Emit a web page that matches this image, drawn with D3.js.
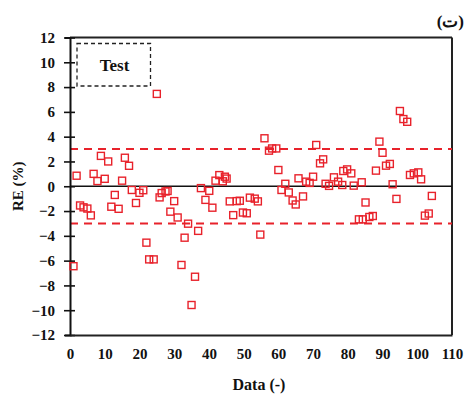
<!DOCTYPE html>
<html>
<head>
<meta charset="utf-8">
<script src="https://cdn.jsdelivr.net/npm/d3@7"></script>
<style>
  html, body { margin: 0; padding: 0; background: #fff; }
  svg { display: block; }
  svg text { font-family: "Liberation Serif", "Times New Roman", serif; font-weight: bold; }
</style>
</head>
<body>
<svg id="chart" width="466" height="394"></svg>
<script>
// data index (x) and relative error in % (y)
const dataIndex = [
  1.0, 1.9, 2.9, 3.9, 5.0, 6.0, 6.8, 7.9, 8.9, 10.0,
  11.0, 11.9, 12.9, 14.0, 15.0, 15.8, 17.0, 17.8, 19.0, 20.0,
  21.1, 22.0, 22.8, 24.1, 25.0, 25.8, 26.4, 27.5, 28.1, 28.9,
  30.0, 31.0, 32.1, 33.0, 34.0, 35.0, 36.0, 36.9, 37.7, 39.0,
  40.1, 41.0, 41.9, 43.0, 44.0, 44.6, 45.1, 46.0, 47.0, 48.0,
  48.9, 49.8, 50.9, 51.8, 53.2, 54.1, 54.8, 56.0, 57.3, 58.2,
  59.4, 60.0, 60.9, 62.0, 63.0, 64.1, 65.0, 65.8, 67.1, 68.0,
  69.0, 70.0, 70.9, 72.0, 72.9, 73.6, 74.6, 76.0, 77.2, 78.4,
  78.7, 79.8, 81.0, 81.7, 83.2, 84.0, 84.3, 85.1, 86.2, 87.2,
  88.1, 89.1, 90.0, 91.0, 92.1, 92.9, 94.0, 95.0, 96.0, 97.1,
  97.9, 99.0, 100.3, 101.1, 102.2, 103.3, 104.2
];
const relError = [
  -6.45, 0.85, -1.55, -1.7, -1.8, -2.35, 1.0, 0.42, 2.45, 0.6,
  2.0, -1.65, -0.7, -1.82, 0.45, 2.3, 1.65, -0.3, -1.35, -0.53,
  -0.32, -4.55, -5.9, -5.9, 7.45, -0.9, -0.55, -0.42, -0.38, -2.05,
  -1.2, -2.52, -6.35, -4.15, -3.02, -9.58, -7.3, -3.6, -0.15, -1.1,
  -0.37, -1.73, 0.45, 0.9, 0.4, 0.77, 0.62, -1.22, -2.33, -1.2,
  -1.17, -2.12, -2.18, -0.92, -1.0, -1.22, -3.9, 3.87, 2.87, 3.05,
  3.05, 1.31, -0.3, 0.2, -0.5, -1.15, -1.47, 0.64, -0.82, 0.37,
  0.27, 0.77, 3.33, 1.85, 2.17, 0.2, 0.03, 0.72, 0.37, 0.1,
  1.23, 1.36, 1.04, 0.05, -2.67, 0.32, -2.67, -1.31, -2.48, -2.4,
  1.26, 3.6, 2.7, 1.66, 1.8, 0.16, -1.02, 6.07, 5.42, 5.2,
  0.91, 1.04, 1.12, 0.56, -2.37, -2.2, -0.78
];
const xTicks = [0, 10, 20, 30, 40, 50, 60, 70, 80, 90, 100, 110];
const yTicks = [-12, -10, -8, -6, -4, -2, 0, 2, 4, 6, 8, 10, 12];
const limitLines = [3, -3];

const plotLeft = 70, plotRight = 452, plotTop = 37.5, plotBottom = 335;
const red = '#e8222b';
const ink = '#111';

const svg = d3.select('#chart');

const x = d3.scaleLinear().domain([0, 110]).range([plotLeft, plotRight]);
const y = d3.scaleLinear().domain([-12, 12]).range([plotBottom, plotTop]);

// frame top and right
svg.append('line')
  .attr('x1', plotLeft).attr('x2', plotRight)
  .attr('y1', plotTop).attr('y2', plotTop)
  .attr('stroke', '#222').attr('stroke-width', 2);
svg.append('line')
  .attr('x1', plotRight).attr('x2', plotRight)
  .attr('y1', plotTop).attr('y2', plotBottom)
  .attr('stroke', '#222').attr('stroke-width', 2);

// zero line
svg.append('line')
  .attr('x1', plotLeft).attr('x2', plotRight)
  .attr('y1', y(0)).attr('y2', y(0))
  .attr('stroke', ink).attr('stroke-width', 1.6);

// +-3 % limits
svg.selectAll('.limit')
  .data(limitLines)
  .enter().append('line')
  .attr('class', 'limit')
  .attr('x1', plotLeft).attr('x2', plotRight)
  .attr('y1', d => y(d)).attr('y2', d => y(d))
  .attr('stroke', red)
  .attr('stroke-width', 2)
  .attr('stroke-dasharray', '8,6');

// y axis, ticks cross the line
const yAxis = svg.append('g')
  .attr('transform', `translate(${plotLeft},0)`)
  .call(d3.axisLeft(y).tickValues(yTicks).tickSize(5).tickPadding(10));
yAxis.attr('font-size', 15);
yAxis.select('.domain').attr('stroke', ink).attr('stroke-width', 2);
yAxis.selectAll('.tick line')
  .attr('x1', -6).attr('x2', 5)
  .attr('stroke', ink).attr('stroke-width', 1.6);
yAxis.selectAll('.tick text').attr('fill', ink);

// x axis (no ticks)
const xAxis = svg.append('g')
  .attr('transform', `translate(0,${plotBottom})`)
  .call(d3.axisBottom(x).tickValues(xTicks).tickSize(0).tickPadding(13));
xAxis.attr('font-size', 15);
xAxis.select('.domain').attr('stroke', '#222').attr('stroke-width', 2);
xAxis.selectAll('.tick text').attr('fill', ink);

// points
const s = 7;
svg.append('g')
  .selectAll('rect')
  .data(dataIndex.map((d, i) => [d, relError[i]]))
  .enter().append('rect')
  .attr('x', d => x(d[0]) - s / 2)
  .attr('y', d => y(d[1]) - s / 2)
  .attr('width', s).attr('height', s)
  .attr('fill', 'none')
  .attr('stroke', red)
  .attr('stroke-width', 1.4);

// legend box
svg.append('rect')
  .attr('x', 77).attr('y', 43.5)
  .attr('width', 73.5).attr('height', 42.5)
  .attr('fill', 'none')
  .attr('stroke', '#222').attr('stroke-width', 1.3)
  .attr('stroke-dasharray', '4,3');
svg.append('text')
  .attr('x', 114.5).attr('y', 71)
  .attr('text-anchor', 'middle')
  .attr('font-size', 17).attr('fill', ink)
  .text('Test');

// axis titles
svg.append('text')
  .attr('x', 259).attr('y', 390)
  .attr('text-anchor', 'middle')
  .attr('font-size', 16).attr('fill', ink)
  .text('Data (-)');
svg.append('text')
  .attr('transform', `translate(23,${y(0)}) rotate(-90)`)
  .attr('text-anchor', 'middle')
  .attr('font-size', 15).attr('fill', ink)
  .text('RE (%)');

// panel label
svg.append('text')
  .attr('x', 464).attr('y', 27)
  .attr('text-anchor', 'end')
  .attr('font-size', 17).attr('fill', ink)
  .text('(ت)');
</script>
</body>
</html>
